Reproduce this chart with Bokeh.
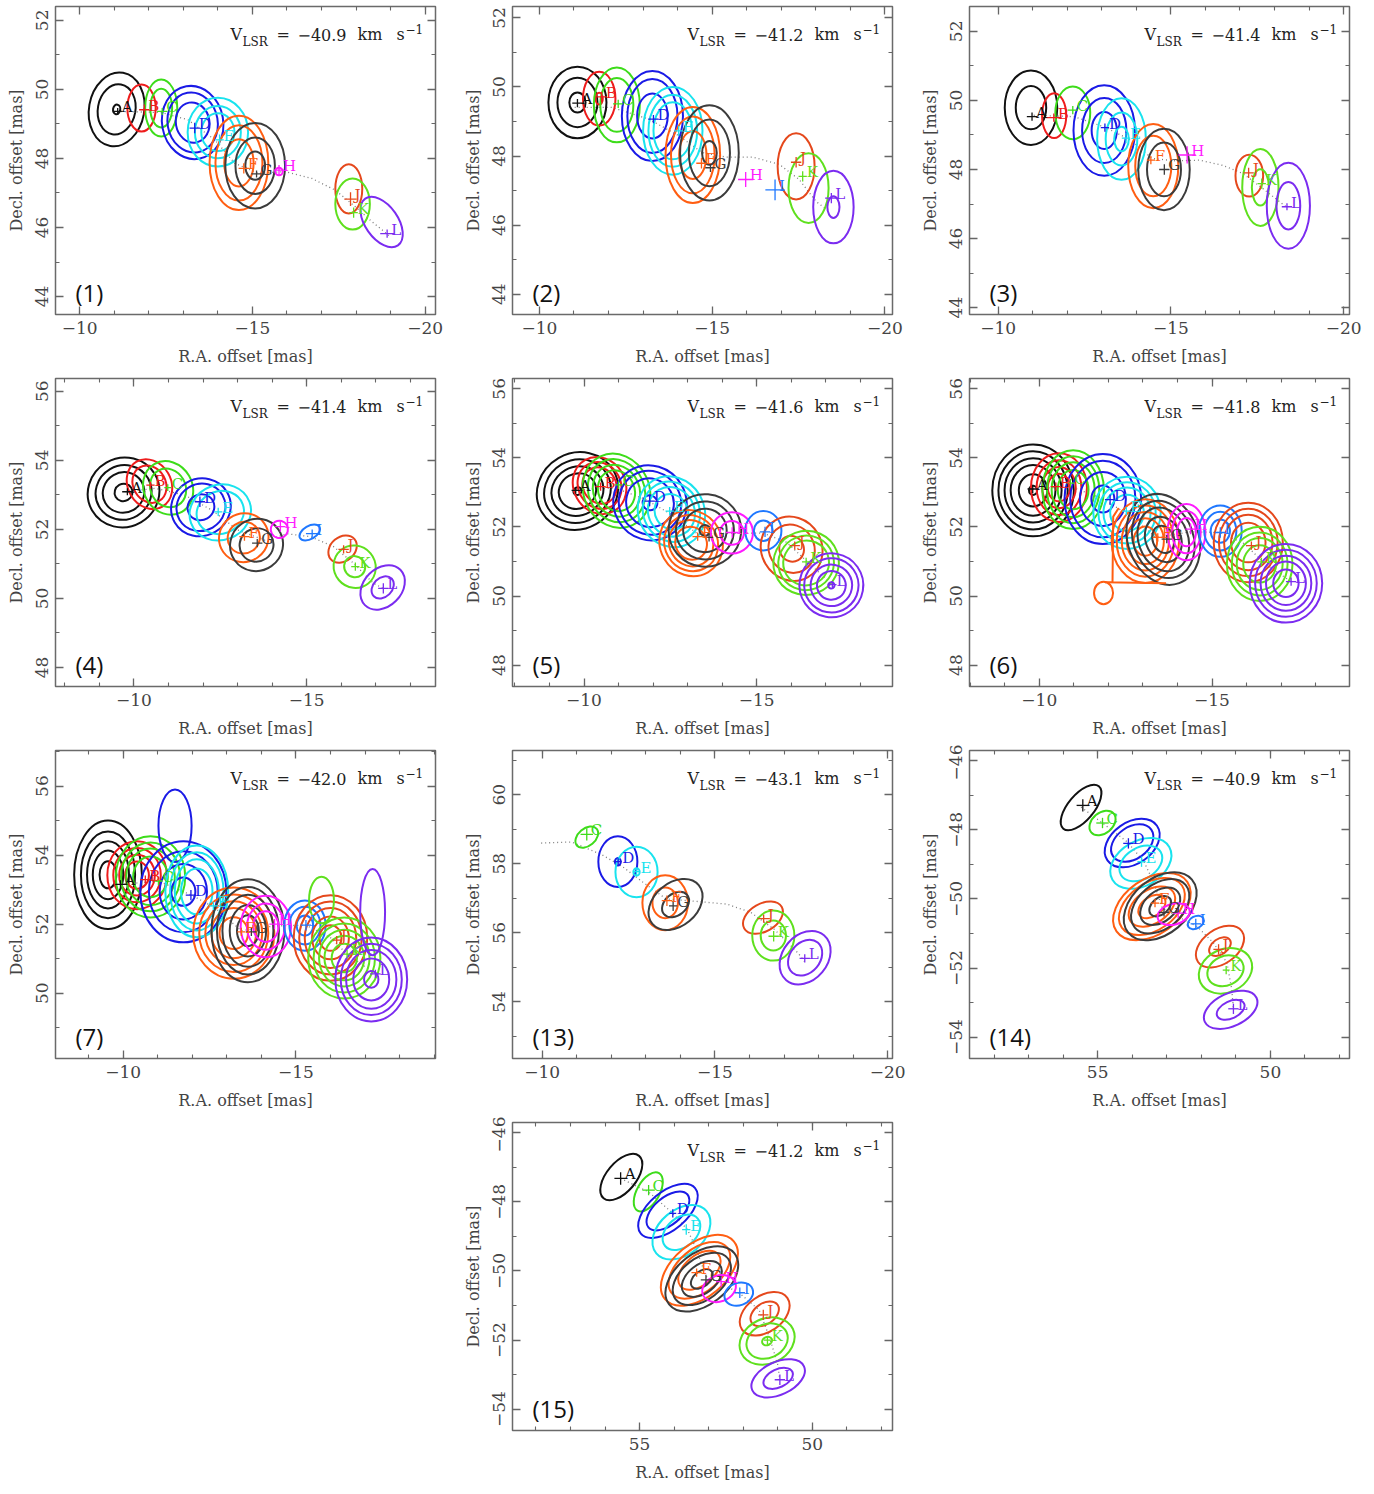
from bokeh.plotting import figure
from bokeh.models import (Range1d, LinearAxis, SingleIntervalTicker, CustomJSTickFormatter,
                          Label, ColumnDataSource)
from bokeh.layouts import gridplot
from bokeh.embed import file_html
from bokeh.resources import INLINE
from bokeh.core.properties import value

COLORS = {"A": "#111111", "B": "#ee1c1c", "C": "#3ddc1a", "D": "#1a1ae6", "E": "#19e3ee",
          "F": "#ff5e12", "G": "#3c3c3c", "H": "#ff1aff", "I": "#1f78ff", "J": "#e5481c",
          "K": "#5fe01e", "L": "#7b2cf0"}

# ---------------- panel (1) ----------------
P1_VLSR = "\u221240.9"
P1_SPOT = ["A", "B", "C", "D", "E", "F", "G", "H", "J", "K", "L"]
P1_RA = [-11.10, -11.87, -12.39, -13.33, -14.05, -14.75, -15.12, -15.77, -17.84, -17.93, -18.90]
P1_DEC = [49.36, 49.41, 49.36, 48.88, 48.54, 47.71, 47.55, 47.66, 46.82, 46.43, 45.82]
P1_ERA = [0.12, 0.15, 0.15, 0.15, 0.12, 0.15, 0.15, 0.15, 0.18, 0.12, 0.20]
P1_EDEC = [0.10, 0.15, 0.10, 0.15, 0.15, 0.15, 0.10, 0.15, 0.20, 0.15, 0.12]
P1_CMP = ["A", "B", "C", "D", "E", "F", "G", "H", "J", "K", "L"]
P1_CRA = [-11.07, -11.79, -12.36, -13.27, -14.00, -14.61, -15.08, -15.77, -17.79, -17.90, -18.74]
P1_CDEC = [49.42, 49.46, 49.46, 49.04, 48.76, 47.87, 47.79, 47.62, 47.12, 46.68, 46.16]
P1_CW = [1.60, 0.82, 0.93, 1.77, 1.75, 1.70, 1.73, 0.22, 0.78, 1.00, 1.65]
P1_CH = [2.15, 1.36, 1.65, 2.13, 1.99, 2.73, 2.48, 0.22, 1.43, 1.48, 0.95]
P1_CANG = [-10, 0, 0, 10, 0, 0, 0, 0, 0, 0, -55]
P1_CLEV = [[1, 0.68, 0.13], [1], [1, 0.68], [1, 0.82, 0.55], [1, 0.76, 0.55], [1, 0.8, 0.5],
           [1, 0.66, 0.33], [1], [1], [1], [1]]
P1_PATH_RA = [-11.19, -12.36, -13.13, -13.91, -14.49, -15.17, -15.95, -16.72, -17.40, -17.98, -18.47, -18.95]
P1_PATH_DEC = [49.36, 49.33, 49.12, 48.54, 47.86, 47.57, 47.62, 47.42, 47.08, 46.60, 46.16, 45.77]

# ---------------- panel (2) ----------------
P2_VLSR = "\u221241.2"
P2_SPOT = ["A", "B", "C", "D", "E", "F", "G", "H", "I", "J", "K", "L"]
P2_RA = [-11.10, -11.80, -12.28, -13.30, -14.03, -14.69, -14.95, -15.97, -16.82, -17.43, -17.62, -18.45]
P2_DEC = [49.53, 49.71, 49.51, 49.07, 48.73, 47.79, 47.66, 47.32, 47.02, 47.82, 47.41, 46.78]
P2_ERA = [0.15, 0.15, 0.15, 0.15, 0.12, 0.15, 0.15, 0.22, 0.28, 0.15, 0.12, 0.18]
P2_EDEC = [0.12, 0.15, 0.12, 0.12, 0.15, 0.15, 0.12, 0.22, 0.30, 0.15, 0.15, 0.15]
P2_CMP = ["A", "B", "C", "D", "E", "F", "G", "J", "K", "L"]
P2_CRA = [-11.10, -11.73, -12.24, -13.27, -13.86, -14.44, -14.92, -17.43, -17.79, -18.51]
P2_CDEC = [49.55, 49.66, 49.48, 49.16, 48.73, 48.03, 48.09, 47.70, 47.07, 46.52]
P2_CW = [1.68, 0.94, 1.33, 1.77, 1.72, 1.58, 1.70, 1.07, 1.16, 1.17]
P2_CH = [2.07, 1.56, 2.17, 2.61, 2.54, 2.78, 2.76, 1.92, 2.02, 2.10]
P2_CANG = [0, 0, 0, 0, 0, 0, 0, 0, 0, 0]
P2_CLEV = [[1, 0.69, 0.28], [1, 0.22], [1, 0.72], [1, 0.82, 0.5], [1, 0.82, 0.65], [1, 0.8, 0.5],
           [1, 0.7, 0.25], [1], [1], [1, 0.3]]
P2_PATH_RA = [-11.02, -12.09, -13.16, -14.03, -14.71, -15.39, -16.17, -16.94, -17.52, -18.01, -18.40]
P2_PATH_DEC = [49.41, 49.41, 49.07, 48.59, 48.10, 47.97, 47.97, 47.76, 47.32, 46.68, 46.39]

# ---------------- panel (3) ----------------
P3_VLSR = "\u221241.4"
P3_SPOT = ["A", "B", "C", "D", "E", "F", "G", "H", "J", "K", "L"]
P3_RA = [-10.98, -11.61, -12.16, -13.09, -13.70, -14.42, -14.81, -15.47, -17.25, -17.63, -18.36]
P3_DEC = [49.53, 49.50, 49.72, 49.21, 48.91, 48.27, 48.00, 48.42, 47.90, 47.59, 46.92]
P3_ERA = [0.15, 0.22, 0.15, 0.12, 0.12, 0.12, 0.15, 0.25, 0.15, 0.12, 0.15]
P3_EDEC = [0.12, 0.12, 0.12, 0.12, 0.15, 0.12, 0.15, 0.25, 0.15, 0.15, 0.10]
P3_CMP = ["A", "B", "C", "D", "E", "F", "G", "J", "K", "L"]
P3_CRA = [-10.95, -11.62, -12.16, -13.07, -13.57, -14.49, -14.80, -17.27, -17.59, -18.40]
P3_CDEC = [49.79, 49.56, 49.64, 49.13, 48.88, 48.10, 48.00, 47.82, 47.48, 46.95]
P3_CW = [1.52, 0.70, 1.01, 1.78, 1.41, 1.45, 1.49, 0.80, 1.05, 1.25]
P3_CH = [2.16, 1.30, 1.53, 2.62, 2.36, 2.44, 2.36, 1.21, 2.23, 2.49]
P3_CANG = [0, 0, 0, 0, 0, 0, 0, 0, 0, 0]
P3_CLEV = [[1, 0.58], [1], [1], [1, 0.72, 0.41], [1, 0.65, 0.3], [1, 0.72], [1, 0.66], [1],
           [1, 0.47], [1, 0.55]]
P3_PATH_RA = [-11.03, -12.20, -13.08, -13.86, -14.45, -15.13, -15.82, -16.50, -17.09, -17.67, -18.36]
P3_PATH_DEC = [49.57, 49.53, 49.23, 48.84, 48.32, 48.25, 48.27, 48.12, 47.88, 47.44, 46.90]

# ---------------- panel (4) ----------------
P4_VLSR = "\u221241.4"
P4_SPOT = ["A", "B", "C", "D", "E", "F", "G", "H", "I", "J", "K", "L"]
P4_RA = [-9.81, -10.48, -10.98, -11.91, -12.44, -13.20, -13.57, -14.24, -15.16, -16.07, -16.41, -17.22]
P4_DEC = [53.09, 53.28, 53.21, 52.80, 52.51, 51.79, 51.60, 52.08, 51.88, 51.42, 50.92, 50.29]
P4_ERA = [0.15, 0.12, 0.10, 0.15, 0.12, 0.15, 0.15, 0.15, 0.18, 0.15, 0.12, 0.15]
P4_EDEC = [0.10, 0.10, 0.10, 0.15, 0.12, 0.12, 0.12, 0.15, 0.12, 0.12, 0.12, 0.15]
P4_CMP = ["A", "B", "C", "D", "E", "F", "G", "H", "I", "J", "K", "L"]
P4_CRA = [-9.70, -10.45, -10.99, -11.94, -12.50, -13.18, -13.55, -14.21, -15.09, -16.04, -16.39, -17.20]
P4_CDEC = [53.07, 53.31, 53.20, 52.64, 52.49, 51.76, 51.55, 52.00, 51.91, 51.43, 50.92, 50.32]
P4_CW = [2.10, 1.25, 1.40, 1.75, 1.80, 1.45, 1.55, 0.50, 0.65, 0.90, 1.20, 1.45]
P4_CH = [2.00, 1.50, 1.60, 1.65, 1.60, 1.40, 1.50, 0.50, 0.38, 0.70, 1.25, 1.10]
P4_CANG = [30, 30, 30, 30, 20, 35, 35, 30, 30, 40, 40, 45]
P4_CLEV = [[1, 0.78, 0.58, 0.25], [1, 0.75], [1, 0.72], [1, 0.82, 0.45], [1, 0.77], [1, 0.65],
           [1, 0.64], [1], [1], [1], [1, 0.5], [1, 0.5]]
P4_PATH_RA = [-9.76, -10.62, -11.48, -12.25, -13.01, -13.78, -14.45, -15.11, -15.78, -16.36, -16.93, -17.22]
P4_PATH_DEC = [53.09, 53.19, 52.99, 52.56, 51.98, 51.69, 51.87, 51.79, 51.50, 51.02, 50.44, 50.29]

# ---------------- panel (5) ----------------
P5_VLSR = "\u221241.6"
P5_SPOT = ["A", "B", "C", "D", "E", "F", "G", "H", "I", "J", "K", "L"]
P5_RA = [-9.76, -10.48, -11.00, -11.90, -12.48, -13.29, -13.62, -14.29, -15.24, -16.10, -16.43, -17.19]
P5_DEC = [53.06, 53.17, 53.22, 52.75, 52.46, 51.72, 51.70, 51.84, 51.86, 51.46, 50.99, 50.33]
P5_ERA = [0.12, 0.15, 0.12, 0.15, 0.12, 0.15, 0.12, 0.18, 0.15, 0.15, 0.12, 0.12]
P5_EDEC = [0.10, 0.12, 0.12, 0.15, 0.12, 0.12, 0.12, 0.15, 0.15, 0.12, 0.12, 0.10]
P5_CMP = ["A", "B", "C", "D", "E", "F", "G", "H", "I", "J", "K", "L"]
P5_CRA = [-9.81, -10.45, -10.94, -11.91, -12.53, -13.10, -13.50, -14.28, -15.19, -16.01, -16.43, -17.16]
P5_CDEC = [53.04, 53.20, 53.05, 52.70, 52.44, 51.53, 51.90, 51.83, 51.89, 51.37, 50.96, 50.31]
P5_CW = [2.40, 1.50, 1.90, 2.10, 1.90, 1.80, 2.10, 1.22, 1.05, 1.75, 1.90, 1.85]
P5_CH = [2.20, 1.70, 2.20, 2.20, 2.10, 1.95, 2.10, 1.20, 1.14, 1.90, 1.85, 1.85]
P5_CANG = [30, 30, 25, 30, 30, 30, 40, 0, 0, 30, 20, 35]
P5_CLEV = [[1, 0.82, 0.64, 0.46, 0.1], [1, 0.82, 0.64], [1, 0.85, 0.7, 0.55], [1, 0.85, 0.65, 0.2],
           [1, 0.85, 0.7, 0.5], [1, 0.85, 0.7, 0.5], [1, 0.8, 0.6, 0.15], [1, 0.57], [1, 0.52],
           [1, 0.75, 0.4], [1, 0.85, 0.7], [1, 0.85, 0.65, 0.45, 0.1]]
P5_PATH_RA = [-9.76, -10.90, -11.76, -12.52, -13.29, -14.33, -15.19, -15.86, -16.52, -17.19]
P5_PATH_DEC = [53.08, 53.13, 52.81, 52.37, 51.80, 51.82, 51.82, 51.56, 50.94, 50.33]

# ---------------- panel (6) ----------------
P6_VLSR = "\u221241.8"
P6_SPOT = ["A", "B", "C", "D", "E", "F", "G", "H", "I", "J", "K", "L"]
P6_RA = [-9.81, -10.48, -10.90, -12.05, -12.52, -13.43, -13.69, -14.38, -15.24, -16.14, -16.43, -17.29]
P6_DEC = [53.10, 53.17, 53.27, 52.79, 52.46, 51.70, 51.65, 51.94, 51.84, 51.46, 50.99, 50.42]
P6_ERA = [0.15, 0.15, 0.12, 0.15, 0.12, 0.15, 0.15, 0.15, 0.15, 0.15, 0.12, 0.15]
P6_EDEC = [0.12, 0.12, 0.12, 0.15, 0.12, 0.12, 0.12, 0.15, 0.15, 0.12, 0.12, 0.12]
P6_CMP = ["A", "B", "C", "D", "E", "F", "F", "G", "H", "I", "J", "K", "L"]
P6_CRA = [-9.82, -10.57, -10.98, -11.84, -12.54, -13.07, -11.86, -13.59, -14.26, -15.24, -16.05, -16.38, -17.14]
P6_CDEC = [53.06, 53.14, 53.08, 52.81, 52.41, 51.59, 50.09, 51.64, 51.85, 51.88, 51.55, 50.93, 50.37]
P6_CW = [2.36, 1.62, 1.78, 2.22, 1.95, 1.95, 0.55, 2.05, 1.10, 1.24, 2.00, 1.90, 2.10]
P6_CH = [2.66, 1.99, 2.28, 2.61, 2.09, 2.42, 0.65, 2.70, 1.63, 1.49, 2.30, 2.15, 2.28]
P6_CANG = [0, 0, 0, 0, 0, 0, 0, 20, 0, 0, 0, 0, 0]
P6_CLEV = [[1, 0.85, 0.7, 0.55, 0.35, 0.1], [1, 0.8, 0.6, 0.4], [1, 0.85, 0.7, 0.5], [1, 0.85, 0.6, 0.3],
           [1, 0.85, 0.7, 0.5], [1, 0.85, 0.7, 0.55, 0.35], [1], [1, 0.85, 0.7, 0.5, 0.3],
           [1, 0.75, 0.5], [1, 0.75, 0.45], [1, 0.85, 0.7, 0.5], [1, 0.85, 0.7, 0.5],
           [1, 0.85, 0.7, 0.55, 0.35]]
P6_PATH_RA = [-9.81, -10.90, -11.86, -12.62, -13.38, -14.38, -15.24, -15.95, -16.52, -17.29]
P6_PATH_DEC = [53.10, 53.17, 52.81, 52.32, 51.70, 51.86, 51.84, 51.51, 50.94, 50.42]
# open arm of the outermost F contour in panel (6)
P6_FARM_RA = [-12.30, -12.14, -12.12, -11.90, -13.67]
P6_FARM_DEC = [52.55, 52.30, 50.40, 50.40, 50.37]

# ---------------- panel (7) ----------------
P7_VLSR = "\u221242.0"
P7_SPOT = ["A", "B", "C", "D", "E", "F", "G", "H", "I", "J", "K", "L"]
P7_RA = [-9.92, -10.64, -11.02, -11.96, -12.61, -13.42, -13.71, -14.38, -15.29, -16.18, -16.48, -17.30]
P7_DEC = [53.15, 53.29, 53.25, 52.84, 52.53, 51.78, 51.78, 52.00, 51.97, 51.54, 51.13, 50.56]
P7_ERA = [0.15, 0.15, 0.12, 0.15, 0.12, 0.12, 0.15, 0.15, 0.15, 0.12, 0.12, 0.15]
P7_EDEC = [0.12, 0.12, 0.12, 0.15, 0.12, 0.12, 0.12, 0.15, 0.15, 0.12, 0.12, 0.12]
P7_CMP = ["A", "B", "C", "D", "D", "E", "F", "G", "H", "I", "J", "K", "K", "L", "L"]
P7_CRA = [-9.56, -10.40, -10.79, -11.74, -11.50, -12.13, -13.20, -13.61, -14.13, -15.26, -16.00, -16.40, -15.74, -17.18, -17.22]
P7_CDEC = [53.43, 53.42, 53.37, 52.94, 54.85, 52.95, 51.74, 51.81, 51.93, 51.96, 51.60, 51.02, 52.70, 50.40, 52.35]
P7_CW = [1.96, 1.72, 2.01, 2.49, 0.96, 1.82, 2.35, 2.11, 1.46, 1.20, 2.13, 2.09, 0.72, 2.08, 0.72]
P7_CH = [3.14, 1.97, 2.35, 2.93, 2.10, 2.66, 2.64, 2.98, 1.78, 1.46, 2.48, 2.35, 1.35, 2.43, 2.50]
P7_CANG = [0, 0, 0, 0, 0, 0, 0, 0, 0, 0, 0, 0, 0, 0, 0]
P7_CLEV = [[1, 0.8, 0.62, 0.45, 0.25], [1, 0.8, 0.6, 0.4], [1, 0.85, 0.7, 0.5], [1, 0.8, 0.55, 0.28], [1],
           [1, 0.85, 0.7, 0.5], [1, 0.85, 0.7, 0.55, 0.35], [1, 0.85, 0.7, 0.5, 0.3], [1, 0.75, 0.5],
           [1, 0.75, 0.4], [1, 0.85, 0.7, 0.5, 0.3], [1, 0.85, 0.7, 0.55, 0.35], [1],
           [1, 0.85, 0.7, 0.5, 0.2], [1]]
P7_PATH_RA = [-9.92, -11.02, -11.98, -12.65, -13.42, -14.38, -15.29, -16.00, -16.48, -17.30]
P7_PATH_DEC = [53.15, 53.25, 52.84, 52.48, 51.81, 51.95, 51.97, 51.61, 51.13, 50.56]

# ---------------- panel (13) ----------------
P13_VLSR = "\u221243.1"
P13_SPOT = ["C", "D", "E", "F", "G", "J", "K", "L"]
P13_RA = [-11.29, -12.20, -12.73, -13.61, -13.79, -16.41, -16.70, -17.60]
P13_DEC = [58.85, 58.06, 57.77, 56.93, 56.78, 56.41, 55.90, 55.26]
P13_ERA = [0.18, 0.10, 0.10, 0.15, 0.12, 0.18, 0.15, 0.15]
P13_EDEC = [0.18, 0.10, 0.10, 0.15, 0.15, 0.12, 0.15, 0.12]
P13_CMP = ["C", "D", "E", "F", "G", "J", "K", "L"]
P13_CRA = [-11.29, -12.19, -12.73, -13.56, -13.86, -16.39, -16.69, -17.61]
P13_CDEC = [58.77, 58.06, 57.76, 56.87, 56.82, 56.44, 55.92, 55.28]
P13_CW = [0.75, 1.13, 1.22, 1.32, 1.75, 1.25, 1.22, 1.70]
P13_CH = [0.50, 1.47, 1.46, 1.59, 1.25, 0.80, 1.45, 1.30]
P13_CANG = [40, 0, 0, 0, 40, 30, 0, 50]
P13_CLEV = [[1], [1, 0.15], [1, 0.15], [1, 0.56], [1, 0.5], [1], [1, 0.6], [1, 0.67]]
P13_PATH_RA = [-9.97, -10.85, -11.73, -12.32, -12.91, -13.59, -14.47, -15.35, -16.04, -16.72, -17.41, -17.60]
P13_PATH_DEC = [58.60, 58.63, 58.26, 57.92, 57.47, 56.98, 56.91, 56.83, 56.59, 56.10, 55.41, 55.16]

# ---------------- panel (14) ----------------
P14_VLSR = "\u221240.9"
P14_SPOT = ["A", "C", "D", "E", "F", "G", "H", "I", "J", "K", "L"]
P14_RA = [55.43, 54.86, 54.11, 53.73, 53.34, 53.08, 52.67, 52.16, 51.50, 51.28, 51.07]
P14_DEC = [-47.29, -47.80, -48.39, -48.92, -50.12, -50.39, -50.41, -50.72, -51.46, -52.06, -53.18]
P14_ERA = [0.18, 0.18, 0.15, 0.12, 0.12, 0.15, 0.15, 0.15, 0.15, 0.10, 0.15]
P14_EDEC = [0.18, 0.15, 0.15, 0.15, 0.12, 0.12, 0.15, 0.15, 0.15, 0.12, 0.15]
P14_CMP = ["A", "C", "D", "E", "F", "G", "H", "I", "J", "K", "L"]
P14_CRA = [55.48, 54.86, 54.00, 53.75, 53.43, 53.19, 52.80, 52.16, 51.46, 51.30, 51.15]
P14_CDEC = [-47.35, -47.80, -48.38, -48.97, -50.22, -50.21, -50.44, -50.68, -51.38, -52.08, -53.21]
P14_CW = [1.60, 0.85, 1.75, 1.90, 2.50, 2.40, 0.95, 0.50, 1.55, 1.60, 1.65]
P14_CH = [0.75, 0.60, 1.20, 1.30, 1.60, 1.60, 0.60, 0.35, 1.00, 1.25, 0.95]
P14_CANG = [50, 40, 35, 30, 35, 40, 15, 30, 35, 25, 25]
P14_CLEV = [[1], [1], [1, 0.77], [1, 0.7], [1, 0.85, 0.6, 0.35], [1, 0.8, 0.55, 0.3], [1], [1],
            [1, 0.45], [1, 0.68], [1, 0.52]]
P14_PATH_RA = [55.48, 54.90, 54.14, 53.66, 53.37, 53.13, 52.70, 52.13, 51.65, 51.26, 51.12, 51.07]
P14_PATH_DEC = [-47.34, -47.77, -48.35, -48.92, -49.54, -50.26, -50.50, -50.79, -51.27, -51.84, -52.61, -53.18]

# ---------------- panel (15) ----------------
P15_VLSR = "\u221241.2"
P15_SPOT = ["A", "C", "D", "E", "F", "G", "H", "I", "J", "K", "L"]
P15_RA = [55.55, 54.74, 54.04, 53.65, 53.35, 53.08, 52.64, 52.10, 51.42, 51.30, 50.94]
P15_DEC = [-47.32, -47.66, -48.33, -48.80, -50.05, -50.26, -50.31, -50.63, -51.27, -52.00, -53.15]
P15_ERA = [0.18, 0.18, 0.10, 0.12, 0.15, 0.15, 0.15, 0.15, 0.15, 0.10, 0.15]
P15_EDEC = [0.18, 0.15, 0.12, 0.15, 0.12, 0.15, 0.15, 0.15, 0.15, 0.12, 0.15]
P15_CMP = ["A", "C", "D", "E", "F", "G", "H", "I", "J", "K", "L"]
P15_CRA = [55.53, 54.75, 54.18, 53.79, 53.27, 53.20, 52.70, 52.13, 51.38, 51.31, 50.99]
P15_CDEC = [-47.28, -47.71, -48.26, -48.88, -49.98, -50.23, -50.51, -50.67, -51.24, -52.03, -53.11]
P15_CW = [1.60, 1.25, 2.05, 1.90, 2.60, 2.40, 1.00, 0.85, 1.60, 1.65, 1.65]
P15_CH = [0.85, 0.65, 1.10, 1.30, 1.55, 1.50, 0.75, 0.65, 1.05, 1.30, 0.95]
P15_CANG = [50, 60, 40, 40, 40, 38, 20, 20, 35, 25, 25]
P15_CLEV = [[1], [1], [1, 0.72], [1, 0.65], [1, 0.8, 0.55], [1, 0.8, 0.55, 0.3], [1], [1],
            [1, 0.57], [1, 0.75, 0.18], [1, 0.55]]
P15_PATH_RA = [55.55, 54.74, 54.04, 53.61, 53.35, 53.08, 52.64, 52.10, 51.54, 51.25, 51.01, 50.94]
P15_PATH_DEC = [-47.32, -47.71, -48.33, -48.81, -49.39, -50.16, -50.36, -50.65, -51.13, -51.90, -52.67, -53.15]

# axis windows (R.A. from, R.A. to, Decl. from, Decl. to)
P1_WIN = [-9.30, -20.30, 43.48, 52.40]
P2_WIN = [-9.22, -20.22, 43.41, 52.33]
P3_WIN = [-9.17, -20.17, 43.80, 52.72]
P4_WIN = [-7.73, -18.73, 47.45, 56.37]
P5_WIN = [-7.93, -18.93, 47.38, 56.30]
P6_WIN = [-7.98, -18.98, 47.38, 56.30]
P7_WIN = [-8.04, -19.04, 48.11, 57.03]
P13_WIN = [-9.14, -20.14, 52.36, 61.28]
P14_WIN = [58.71, 47.71, -54.62, -45.70]
P15_WIN = [58.68, 47.68, -54.62, -45.70]

FONT = "DejaVu Serif"
AXC = "#666666"
TXC = "#444444"

MINUS_FMT = "return tick < 0 ? '\\u2212' + Math.abs(tick) : '' + tick;"


def style_axis(ax):
    ax.axis_line_color = None
    ax.major_tick_in = 8
    ax.major_tick_out = 0
    ax.minor_tick_in = 4
    ax.minor_tick_out = 0
    ax.major_tick_line_color = AXC
    ax.minor_tick_line_color = AXC
    ax.major_tick_line_width = 1.3
    ax.minor_tick_line_width = 1.1
    ax.major_label_text_font = FONT
    ax.major_label_text_font_size = "17px"
    ax.major_label_text_color = TXC
    ax.axis_label_text_font = FONT
    ax.axis_label_text_font_size = "16px"
    ax.axis_label_text_font_style = "normal"
    ax.axis_label_text_color = TXC


def build(num, win, vlsr, spot, ra, dec, era, edec, cmp, cra, cdec, cw, ch, cang, clev, pra, pdec,
          arm_ra=None, arm_dec=None):
    p = figure(width=457, height=372, x_range=Range1d(win[0], win[1]), y_range=Range1d(win[2], win[3]),
               output_backend="svg", toolbar_location=None,
               min_border_left=55, min_border_right=22, min_border_top=6, min_border_bottom=58,
               background_fill_color="white", border_fill_color="white",
               outline_line_color="#6a6a6a", outline_line_width=1.5)
    p.grid.visible = False
    xt = SingleIntervalTicker(interval=5, num_minor_ticks=5)
    yt = SingleIntervalTicker(interval=2, num_minor_ticks=2)
    fmt = CustomJSTickFormatter(code=MINUS_FMT)
    blank = CustomJSTickFormatter(code="return '';")
    bx = p.below[0]
    ly = p.left[0]
    bx.ticker = xt
    ly.ticker = yt
    bx.formatter = fmt
    ly.formatter = fmt
    bx.axis_label = "R.A. offset [mas]"
    ly.axis_label = "Decl. offset [mas]"
    ly.major_label_orientation = "vertical"
    bx.major_label_standoff = 7
    ly.major_label_standoff = 7
    bx.axis_label_standoff = 10
    ly.axis_label_standoff = 8
    top = LinearAxis(ticker=xt, formatter=blank, major_label_standoff=0, axis_label_standoff=0)
    right = LinearAxis(ticker=yt, formatter=blank, major_label_standoff=0, axis_label_standoff=0)
    p.add_layout(top, "above")
    p.add_layout(right, "right")
    for ax in (bx, ly, top, right):
        style_axis(ax)

    # dotted track
    p.line(pra, pdec, line_dash="1 3", line_color="#7d7d7d", line_width=1.3)

    # contours (one ellipse per level)
    ex, ey, ew, eh, ea, ec = [], [], [], [], [], []
    for c, x, y, w, h, a, lev in zip(cmp, cra, cdec, cw, ch, cang, clev):
        for f in lev:
            ex.append(x)
            ey.append(y)
            ew.append(w * f)
            eh.append(h * f)
            ea.append(a)
            ec.append(COLORS[c])
    src = ColumnDataSource(dict(x=ex, y=ey, w=ew, h=eh, a=ea, c=ec))
    p.ellipse(x="x", y="y", width="w", height="h", angle="a", angle_units="deg", source=src,
              fill_color=None, line_color="c", line_width=2)
    if arm_ra is not None:
        p.line(arm_ra, arm_dec, line_color=COLORS["F"], line_width=2)

    # spot crosses
    sc = [COLORS[s] for s in spot]
    x0 = [x - e for x, e in zip(ra, era)]
    x1 = [x + e for x, e in zip(ra, era)]
    y0 = [y - e for y, e in zip(dec, edec)]
    y1 = [y + e for y, e in zip(dec, edec)]
    p.segment(x0=x0, y0=dec, x1=x1, y1=dec, line_color=sc, line_width=1.3)
    p.segment(x0=ra, y0=y0, x1=ra, y1=y1, line_color=sc, line_width=1.3)
    p.text(x=ra, y=dec, text=spot, text_color=sc, text_font=value(FONT), text_font_size="15px",
           x_offset=4, y_offset=-4, text_baseline="middle", text_align="left")

    # V_LSR annotation
    def lab(x, y, t, size):
        p.add_layout(Label(x=x, y=y, x_units="screen", y_units="screen", text=t, text_font=FONT,
                           text_font_size=size, text_color="#222222", text_baseline="alphabetic"))
    lab(175, 280, "V", "16px")
    lab(187, 273, "LSR", "12px")
    lab(221, 280, "=", "16px")
    lab(242, 280, vlsr, "16px")
    lab(302, 280, "km", "16px")
    lab(341, 280, "s", "16px")
    lab(350, 286, "\u22121", "12px")
    p.add_layout(Label(x=20, y=22, x_units="screen", y_units="screen", text="(%s)" % num,
                       text_font="Open Sans", text_font_size="24px", text_color="#111111",
                       text_baseline="alphabetic"))
    return p


p1 = build(1, P1_WIN, P1_VLSR, P1_SPOT, P1_RA, P1_DEC, P1_ERA, P1_EDEC, P1_CMP, P1_CRA, P1_CDEC,
           P1_CW, P1_CH, P1_CANG, P1_CLEV, P1_PATH_RA, P1_PATH_DEC)
p2 = build(2, P2_WIN, P2_VLSR, P2_SPOT, P2_RA, P2_DEC, P2_ERA, P2_EDEC, P2_CMP, P2_CRA, P2_CDEC,
           P2_CW, P2_CH, P2_CANG, P2_CLEV, P2_PATH_RA, P2_PATH_DEC)
p3 = build(3, P3_WIN, P3_VLSR, P3_SPOT, P3_RA, P3_DEC, P3_ERA, P3_EDEC, P3_CMP, P3_CRA, P3_CDEC,
           P3_CW, P3_CH, P3_CANG, P3_CLEV, P3_PATH_RA, P3_PATH_DEC)
p4 = build(4, P4_WIN, P4_VLSR, P4_SPOT, P4_RA, P4_DEC, P4_ERA, P4_EDEC, P4_CMP, P4_CRA, P4_CDEC,
           P4_CW, P4_CH, P4_CANG, P4_CLEV, P4_PATH_RA, P4_PATH_DEC)
p5 = build(5, P5_WIN, P5_VLSR, P5_SPOT, P5_RA, P5_DEC, P5_ERA, P5_EDEC, P5_CMP, P5_CRA, P5_CDEC,
           P5_CW, P5_CH, P5_CANG, P5_CLEV, P5_PATH_RA, P5_PATH_DEC)
p6 = build(6, P6_WIN, P6_VLSR, P6_SPOT, P6_RA, P6_DEC, P6_ERA, P6_EDEC, P6_CMP, P6_CRA, P6_CDEC,
           P6_CW, P6_CH, P6_CANG, P6_CLEV, P6_PATH_RA, P6_PATH_DEC, P6_FARM_RA, P6_FARM_DEC)
p7 = build(7, P7_WIN, P7_VLSR, P7_SPOT, P7_RA, P7_DEC, P7_ERA, P7_EDEC, P7_CMP, P7_CRA, P7_CDEC,
           P7_CW, P7_CH, P7_CANG, P7_CLEV, P7_PATH_RA, P7_PATH_DEC)
p13 = build(13, P13_WIN, P13_VLSR, P13_SPOT, P13_RA, P13_DEC, P13_ERA, P13_EDEC, P13_CMP, P13_CRA, P13_CDEC,
            P13_CW, P13_CH, P13_CANG, P13_CLEV, P13_PATH_RA, P13_PATH_DEC)
p14 = build(14, P14_WIN, P14_VLSR, P14_SPOT, P14_RA, P14_DEC, P14_ERA, P14_EDEC, P14_CMP, P14_CRA, P14_CDEC,
            P14_CW, P14_CH, P14_CANG, P14_CLEV, P14_PATH_RA, P14_PATH_DEC)
p15 = build(15, P15_WIN, P15_VLSR, P15_SPOT, P15_RA, P15_DEC, P15_ERA, P15_EDEC, P15_CMP, P15_CRA, P15_CDEC,
            P15_CW, P15_CH, P15_CANG, P15_CLEV, P15_PATH_RA, P15_PATH_DEC)

grid = gridplot([[p1, p2, p3], [p4, p5, p6], [p7, p13, p14], [None, p15, None]], toolbar_location=None)

open("out.html", "w").write(file_html(grid, INLINE, "maser spots"))
